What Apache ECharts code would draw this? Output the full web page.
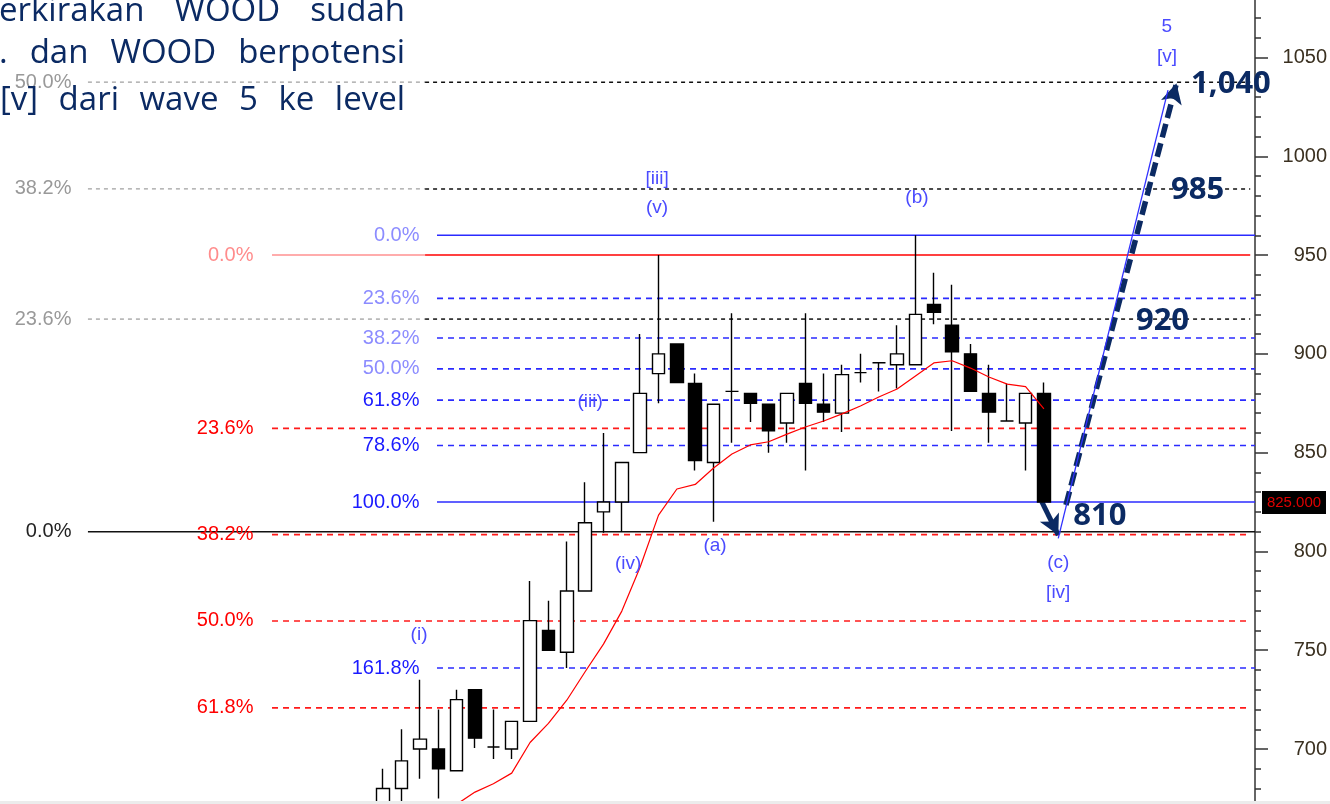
<!DOCTYPE html>
<html>
<head>
<meta charset="utf-8">
<title>WOOD wave 5</title>
<script src="https://cdn.jsdelivr.net/npm/echarts@6/dist/echarts.min.js"></script>
<style>
html, body { margin: 0; padding: 0; background: #fff; }
#main { width: 1330px; height: 804px; }
</style>
</head>
<body>
<div id="main"></div>
<script>
// candles: [open, close, lowest, highest], one slot each, first candle sits on slot 20
var firstSlot = 20;
var slotCount = 68;
var candles = [
	[672, 680, 668, 690], [680, 694, 673, 710], [700, 705, 685, 735], [700, 690, 675, 720],
	[689, 725, 689, 730], [730, 705.5, 700.5, 730], [701, 701, 695, 720], [700, 714, 695, 714],
	[714, 765, 714, 785], [760, 750, 750, 775], [749, 780, 741, 805], [780, 814.5, 780, 835],
	[820, 825, 809.5, 860], [825, 845, 810, 845], [850, 880, 850, 910], [890, 900, 875, 950],
	[905, 885.5, 885.5, 905], [885, 846, 841, 890], [845, 874.5, 815, 874.5], [881, 881, 855, 920.5],
	[880, 875, 865.5, 880], [874.5, 861, 850, 874.5], [865, 880, 855, 880], [885, 875, 841, 920.5],
	[874.5, 870.5, 865.5, 890], [870, 889.5, 860.5, 894.5], [890.5, 890.5, 885.5, 900], [895.5, 895.5, 881, 895.5],
	[894.5, 900, 882.5, 914.5], [894.5, 920, 894.5, 960], [925, 921, 915, 941], [914.5, 901, 861, 935],
	[900, 881, 881, 905], [880, 870.5, 855, 894.5], [866, 866, 866, 885], [865, 880, 841, 880],
	[880, 825, 825, 885.5]
];
// red moving average, starts on the 5th candle
var maValues = [null, null, null, null,
	672, 678.2, 682.4, 687.8, 703.3, 713, 724.7, 739.1, 753.1, 769.8,
	792.1, 818.4, 831.6, 833.9, 842.2, 849.3, 853.9, 855.5, 859.4, 863,
	866, 869.6, 873.6, 878.2, 882.2, 888.8, 895.4, 896.5, 892.8, 888.3,
	884.7, 883.4, 872.1];

// fibonacci levels
var blackLevels = [1037.5, 983.5, 917.6, 810];
var blackNames = ['50.0%', '38.2%', '23.6%', '0.0%'];
var redLevels = [950, 862.3, 808.5, 764.8, 720.8];
var redNames = ['0.0%', '23.6%', '38.2%', '50.0%', '61.8%'];
var blueLevels = [960, 928.1, 908, 892.4, 876.6, 853.6, 825, 741];
var blueNames = ['0.0%', '23.6%', '38.2%', '50.0%', '61.8%', '78.6%', '100.0%', '161.8%'];

// targets
var targetValues = [1037.5, 983.5, 917.6, 810];
var targetNames = ['1,040', '985', '920', '810'];

// wave counts: [slot, price, text]
var waveLabels = [
	[21.95, 757.7, '(i)'], [31.27, 875.8, '(iii)'], [34.92, 988.4, '[iii]'], [34.92, 973.7, '(v)'],
	[33.34, 794, '(iv)'], [38.08, 802.7, '(a)'], [49.08, 979.2, '(b)'], [56.78, 794.1, '(c)'],
	[56.78, 779, '[iv]'], [62.7, 1065.4, '5'], [62.7, 1050.3, '[v]']
];

// projected path: [slot, price]
var pathDown = [[55.88, 825.2], [56.78, 808.3]];
var pathUp = [[57.2, 823.5], [63.22, 1036.9]];
var pathThin = [[56.78, 806.6], [62.76, 1033.5]];

var noteLines = [
	['erkirakan', 'WOOD', 'sudah'],
	['.', 'dan', 'WOOD', 'berpotensi'],
	['[v]', 'dari', 'wave', '5', 'ke', 'level']
];

var narrow = '"Liberation Sans Narrow", "Arial Narrow", "Liberation Sans", sans-serif';
var navy = '#0b2a63';

var cats = [];
for (var i = 0; i < slotCount; i++) cats.push(String(i));

var kData = candles.map(function(c, i) { return [firstSlot + i].concat(c); });
var maData = [];
maValues.forEach(function(v, i) { if (v !== null) maData.push([firstSlot + i, v]); });

var series = [];

function segment(x0, x1, v, color, type, width) {
	series.push({
		type: 'line', xAxisIndex: 1, yAxisIndex: 0, silent: true, symbol: 'none', z: 2,
		data: [[x0, v], [x1, v]],
		lineStyle: { color: color, type: type, width: width }
	});
}

function textSeries(items, label, z) {
	series.push({
		type: 'scatter', xAxisIndex: 1, yAxisIndex: 0, silent: true, z: z || 10,
		symbolSize: 1, itemStyle: { color: 'rgba(0,0,0,0)', opacity: 1 },
		data: items,
		label: Object.assign({ show: true, formatter: '{b}' }, label)
	});
}

/* black / grey retracement */
var greyStart = 3.91, splitX = 22.28, redStart = 13.94, blueStart = 22.93, lineEnd = 67.24, axisEnd = 67.5;
blackLevels.forEach(function(v, i) {
	if (blackNames[i] === '0.0%') {
		segment(greyStart, axisEnd, v, '#111', 'solid', 1.6);
	} else {
		segment(greyStart, splitX, v, '#a0a0a0', [4, 4], 1.3);
		segment(splitX, lineEnd, v, '#111', [4, 4], 1.5);
	}
	textSeries([{ value: [greyStart, v], name: blackNames[i] }], {
		position: 'left', distance: 16, fontFamily: narrow, fontSize: 20,
		color: blackNames[i] === '0.0%' ? '#222' : '#999'
	});
});

/* red retracement */
redLevels.forEach(function(v, i) {
	if (redNames[i] === '0.0%') {
		segment(redStart, splitX, v, '#ff9090', 'solid', 1.6);
		segment(splitX, lineEnd, v, '#ff0000', 'solid', 1.6);
	} else {
		segment(redStart, lineEnd, v, '#ff1a1a', [6, 5], 1.6);
	}
	textSeries([{ value: [redStart, v], name: redNames[i] }], {
		position: 'left', distance: 18, fontFamily: narrow, fontSize: 20,
		color: redNames[i] === '0.0%' ? '#ff8c8c' : '#ff0000'
	});
});

/* blue retracement */
blueLevels.forEach(function(v, i) {
	var solid = blueNames[i] === '0.0%' || blueNames[i] === '100.0%';
	segment(blueStart, axisEnd, v, '#2b2bff', solid ? 'solid' : [6, 5], 1.6);
	textSeries([{ value: [blueStart, v], name: blueNames[i] }], {
		position: 'left', distance: 17, fontFamily: narrow, fontSize: 20,
		color: i < 4 ? '#8c8cff' : '#1a1aff'
	});
});

series.push({
	type: 'candlestick', xAxisIndex: 0, yAxisIndex: 0, z: 5,
	data: kData,
	encode: { x: 0, y: [1, 2, 3, 4] },
	barWidth: 13,
	itemStyle: { color: '#ffffff', color0: '#000000', borderColor: '#000000', borderColor0: '#000000', borderWidth: 1.4 }
});

series.push({
	type: 'line', xAxisIndex: 0, yAxisIndex: 0, z: 6, silent: true,
	data: maData, symbol: 'none',
	lineStyle: { color: '#ff0000', width: 1.2 }
});

/* projected path */
series.push({
	type: 'line', xAxisIndex: 1, yAxisIndex: 0, z: 7, silent: true, symbol: 'none',
	data: pathThin,
	lineStyle: { color: '#3030ff', width: 1.3 },
	markLine: {
		silent: true, symbol: ['none', 'arrow'], symbolSize: [16, 20], label: { show: false },
		data: [
			[{ coord: pathDown[0], lineStyle: { type: 'solid', width: 5, color: navy } }, { coord: pathDown[1] }],
			[{ coord: pathUp[0], lineStyle: { type: [14, 6], width: 5.5, color: navy } }, { coord: pathUp[1] }]
		]
	}
});

textSeries(waveLabels.map(function(w) { return { value: [w[0], w[1]], name: w[2] }; }), {
	position: 'inside', fontFamily: narrow, fontSize: 19, color: '#4b4bff'
}, 11);

var targetSlots = [66.19, 64.37, 62.46, 59.05];
var targetOffsets = [[0, 2], [0, 1], [0, 2], [0, -16]];
targetValues.forEach(function(v, i) {
	textSeries([{ value: [targetSlots[i], v], name: targetNames[i] }], {
		position: 'inside', offset: targetOffsets[i], fontFamily: '"Open Sans", sans-serif',
		fontWeight: 'bold', fontSize: 31, color: navy
	}, 12);
});

/* note text, justified between left edge and x=405 */
var meas = document.createElement('canvas').getContext('2d');
meas.font = '33px "Open Sans"';
var noteY = [12, 54, 101];
var noteLeft = [-1, -1, 0];
var graphics = [];
noteLines.forEach(function(words, li) {
	var widths = words.map(function(w) { return meas.measureText(w).width; });
	var total = widths.reduce(function(a, b) { return a + b; }, 0);
	var gap = (405 - noteLeft[li] - total) / (words.length - 1);
	var x = noteLeft[li];
	words.forEach(function(w, wi) {
		graphics.push({
			type: 'text', x: x, y: noteY[li], z: 100, silent: true,
			style: { text: w, font: '33px "Open Sans"', fill: navy, verticalAlign: 'middle', align: 'left' }
		});
		x += widths[wi] + gap;
	});
});
graphics.push({
	type: 'rect', shape: { x: 0, y: 801, width: 1330, height: 3 }, z: 100, silent: true,
	style: { fill: '#ececec' }
});

var option = {
	backgroundColor: '#ffffff',
	animation: false,
	grid: { left: 7, right: 75, top: -41.3, bottom: -43.8, containLabel: false, outerBoundsMode: 'none' },
	xAxis: [{
		type: 'category', data: cats, show: false, boundaryGap: true
	}, {
		type: 'value', min: -0.5, max: slotCount - 0.5, show: false
	}],
	yAxis: {
		type: 'value', position: 'right', min: 650, max: 1100, interval: 50,
		axisLine: { show: true, onZero: false, lineStyle: { color: '#333', width: 1.5 } },
		axisTick: { show: true, length: 13, lineStyle: { color: '#333', width: 1.5 } },
		minorTick: { show: true, splitNumber: 5, length: 6, lineStyle: { color: '#333', width: 1.5 } },
		splitLine: { show: false },
		axisLabel: {
			margin: 72, align: 'right', color: '#3a3020', fontSize: 20, fontFamily: narrow,
			formatter: function(v) { return String(v); }
		}
	},
	graphic: graphics,
	series: series
};

var chart = echarts.init(document.getElementById('main'));
chart.setOption(option);

/* last price tag on the axis */
var lastClose = candles[candles.length - 1][1];
var yTag = chart.convertToPixel({ yAxisIndex: 0 }, lastClose);
graphics.push({
	type: 'rect', shape: { x: 1262, y: yTag - 11, width: 64, height: 23 }, z: 100, silent: true,
	style: { fill: '#000' }
});
graphics.push({
	type: 'text', x: 1294, y: yTag + 0.5, z: 101, silent: true,
	style: { text: lastClose.toFixed(3), font: '15px ' + narrow, fill: '#e00000', align: 'center', verticalAlign: 'middle' }
});
chart.setOption({ graphic: graphics });
</script>
</body>
</html>
